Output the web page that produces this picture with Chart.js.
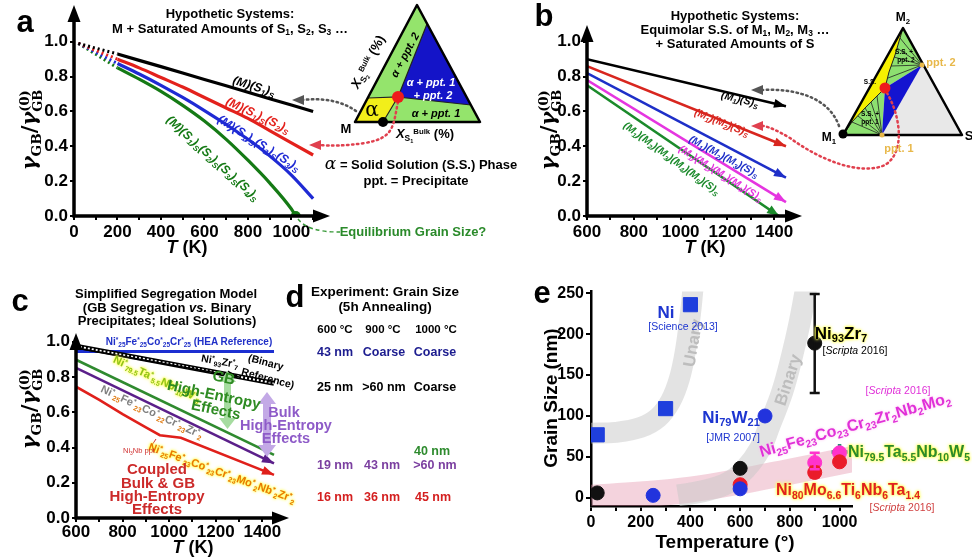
<!DOCTYPE html>
<html>
<head>
<meta charset="utf-8">
<script src="https://cdn.jsdelivr.net/npm/chart.js@4.4.0/dist/chart.umd.min.js"></script>
<style>
body { margin: 0; background: #fff; }
#wrap { position: relative; width: 972px; height: 558px; overflow: hidden; font-family: 'Liberation Sans', Arial, sans-serif; }
canvas, svg { position: absolute; }
.t { position: absolute; white-space: nowrap; font-weight: bold; line-height: 1; transform: translate(-50%, -50%) rotate(var(--r, 0deg)); }
.tl { transform: translate(0, -50%) rotate(var(--r, 0deg)); transform-origin: left center; }
.t sub { font-size: .65em; vertical-align: -.35em; line-height: 0; }
.t sup { font-size: .65em; vertical-align: .5em; line-height: 0; }
.lbl { font-size: 31px; }
.ttl { font-size: 13px; }
.ax { font-size: 18px; }
.gam { font-family: 'DejaVu Serif', 'Liberation Serif', serif; font-size: 21px; }
.stk { display: inline-flex; flex-direction: column; font-size: .62em; line-height: 1; vertical-align: .55em; }
.cv { font-style: italic; font-size: 12px; }
.cvb { font-style: italic; font-size: 10.5px; }
.tri { font-size: 11px; }
.dd { font-size: 12.5px; }
.ref { font-weight: normal; font-size: 10.5px; }
.glow { text-shadow: 0 0 2px #ffff40, 0 0 3px #ffff40, 0 0 4px #ffff80; }
</style>
</head>
<body>
<div id="wrap">
<canvas id="ca" width="340" height="262" style="left:0;top:0"></canvas>
<canvas id="cb" width="340" height="262" style="left:480px;top:0"></canvas>
<canvas id="cc" width="300" height="278" style="left:0;top:280px"></canvas>
<canvas id="ce" width="442" height="278" style="left:530px;top:280px"></canvas>

<svg width="972" height="558" style="left:0;top:0">
  <!-- panel a ternary sketch -->
  <polygon points="355,122 417,5 480,122" fill="#94e46c"/>
  <polygon points="398,97 427,24 471,105" fill="#1414c8"/>
  <polygon points="355,122 368,98 398,97 383,122" fill="#f2ee1a"/>
  <polyline points="368,98 398,97 383,122" fill="none" stroke="#222" stroke-width="1.2"/>
  <polyline points="427,24 398,97 471,105" fill="none" stroke="#222" stroke-width="1.2"/>
  <polygon points="355,122 417,5 480,122" fill="none" stroke="#000" stroke-width="2.5" stroke-linejoin="round"/>
  <path d="M356,111 C340,100 322,98 302,100" fill="none" stroke="#555" stroke-width="2.5" stroke-dasharray="1.5 3.5" stroke-linecap="round"/>
  <polygon points="292,100 304,95 304,105" fill="#555"/>
  <path d="M398,102 C393,125 395,138 365,143 C345,146 330,146 320,145" fill="none" stroke="#e0404e" stroke-width="2.5" stroke-dasharray="1.5 3.5" stroke-linecap="round"/>
  <polygon points="309,145 321,140 321,150" fill="#e0404e"/>
  <circle cx="398" cy="97" r="6" fill="#ee1c1c"/>
  <circle cx="383" cy="122" r="5" fill="#000"/>
  <path d="M298,219 C305,228 318,232 340,232" fill="none" stroke="#3a9a3a" stroke-width="1.5" stroke-dasharray="4 3"/>

  <!-- panel b ternary sketch -->
  <polygon points="843,135 903,28 962,135" fill="#e8e8e8"/>
  <polygon points="843,135 882,135 885,88 922,65 903,28" fill="#8de070"/>
  <polygon points="885,88 922,65 882,135" fill="#1414d0"/>
  <path d="M843,135 L903,28 L900,38 L895,55 L889,72 L885,88 L877,96 L865,108 L852,122 Z" fill="#f5f000"/>
  <polyline points="903,28 900,38 895,55 889,72 885,88 877,96 865,108 852,122 843,135" fill="none" stroke="#222" stroke-width="1"/>
  <g stroke="#222" stroke-width="0.8">
    <line x1="882" y1="135" x2="852" y2="122"/><line x1="882" y1="135" x2="858" y2="116"/>
    <line x1="882" y1="135" x2="865" y2="108"/><line x1="882" y1="135" x2="871" y2="102"/>
    <line x1="882" y1="135" x2="877" y2="96"/>
    <line x1="922" y1="65" x2="888" y2="78"/><line x1="922" y1="65" x2="891" y2="66"/>
    <line x1="922" y1="65" x2="894" y2="57"/><line x1="922" y1="65" x2="897" y2="48"/>
    <line x1="922" y1="65" x2="900" y2="38"/>
  </g>
  <polygon points="843,135 903,28 962,135" fill="none" stroke="#000" stroke-width="2.5" stroke-linejoin="round"/>
  <path d="M839,126 C830,100 800,88 762,90" fill="none" stroke="#555" stroke-width="2.5" stroke-dasharray="1.5 3.5" stroke-linecap="round"/>
  <polygon points="751,90 763,85 763,95" fill="#555"/>
  <path d="M887,93 C900,115 906,152 885,165 C860,176 820,160 790,138 C778,131 770,127 763,126" fill="none" stroke="#e0404e" stroke-width="2.5" stroke-dasharray="1.5 3.5" stroke-linecap="round"/>
  <polygon points="751,126 763,121 763,131" fill="#e0404e"/>
  <circle cx="885" cy="88" r="5.5" fill="#ee1c1c"/>
  <circle cx="843" cy="134" r="4.5" fill="#000"/>
  <circle cx="882" cy="135" r="2.5" fill="#e8b84a"/>
  <circle cx="922" cy="65" r="2.5" fill="#e8b84a"/>

  <!-- panel c double arrows -->
  <g fill="#a6dca0">
    <rect x="224" y="380" width="7" height="40"/>
    <polygon points="227.5,371 219,382 236,382"/>
    <polygon points="227.5,429 219,418 236,418"/>
  </g>
  <g fill="#c3a9e6">
    <rect x="263" y="402" width="8" height="45"/>
    <polygon points="267,392 258,404 276,404"/>
    <polygon points="267,457 258,445 276,445"/>
  </g>
  <line x1="150" y1="448" x2="156" y2="439" stroke="#d03030" stroke-width="1"/>
</svg>

<!-- panel a text -->
<div class="t lbl" style="left:25px;top:21px">a</div>
<div class="t ttl" style="left:230px;top:13px">Hypothetic Systems:</div>
<div class="t ttl" style="left:230px;top:28px">M + Saturated Amounts of S<sub>1</sub>, S<sub>2</sub>, S<sub>3</sub> …</div>
<div class="t gam" style="left:31px;top:130px;--r:-90deg"><i>γ</i><sub>GB</sub>/<i>γ</i><span class="stk"><span>(0)</span><span>GB</span></span></div>
<div class="t ax" style="left:187px;top:247px"><i>T</i> (K)</div>
<div class="t cv" style="left:254px;top:86px;--r:17deg">(M)(S<sub>1</sub>)<sub>S</sub></div>
<div class="t cv" style="left:258px;top:115px;--r:25deg;color:#e3211c">(M)(S<sub>1</sub>)<sub>S</sub>(S<sub>2</sub>)<sub>S</sub></div>
<div class="t cv" style="left:259px;top:143px;--r:32deg;color:#1f2ad4">(M)(S<sub>1</sub>)<sub>S</sub>(S<sub>2</sub>)<sub>S</sub>(S<sub>3</sub>)<sub>S</sub></div>
<div class="t cv" style="left:213px;top:158px;--r:42deg;color:#157a15">(M)(S<sub>1</sub>)<sub>S</sub>(S<sub>2</sub>)<sub>S</sub>(S<sub>3</sub>)<sub>S</sub>(S<sub>4</sub>)<sub>S</sub></div>
<div class="t ttl" style="left:413px;top:231px;color:#2a8a2a">Equilibrium Grain Size?</div>
<div class="t ttl" style="left:421px;top:163px"><span style="font-family:'DejaVu Serif',serif;font-style:italic;font-size:17px;font-weight:normal">α</span> = Solid Solution (S.S.) Phase</div>
<div class="t ttl" style="left:416px;top:180px">ppt. = Precipitate</div>
<div class="t tri" style="left:405px;top:55px;--r:-62deg;font-style:italic">α + ppt. 2</div>
<div class="t tri" style="left:431px;top:82px;color:#fff;font-style:italic">α + ppt. 1</div>
<div class="t tri" style="left:433px;top:95px;color:#fff;font-style:italic">+ ppt. 2</div>
<div class="t tri" style="left:436px;top:113px;font-style:italic">α + ppt. 1</div>
<div class="t" style="left:372px;top:109px;font-family:'DejaVu Serif',serif;font-size:20px;font-weight:normal">α</div>
<div class="t ttl" style="left:346px;top:128px">M</div>
<div class="t" style="left:368px;top:62px;--r:-62deg;font-size:13px"><i>X</i><sub>S<sub>2</sub></sub><sup style="font-size:.6em">Bulk</sup> (%)</div>
<div class="t" style="left:425px;top:134px;font-size:13px"><i>X</i><sub>S<sub>1</sub></sub><sup style="font-size:.6em">Bulk</sup> (%)</div>

<!-- panel b text -->
<div class="t lbl" style="left:544px;top:15px">b</div>
<div class="t ttl" style="left:735px;top:15px">Hypothetic Systems:</div>
<div class="t ttl" style="left:735px;top:29px">Equimolar S.S. of M<sub>1</sub>, M<sub>2</sub>, M<sub>3</sub> …</div>
<div class="t ttl" style="left:735px;top:43px">+ Saturated Amounts of S</div>
<div class="t gam" style="left:550px;top:130px;--r:-90deg"><i>γ</i><sub>GB</sub>/<i>γ</i><span class="stk"><span>(0)</span><span>GB</span></span></div>
<div class="t ax" style="left:705px;top:247px"><i>T</i> (K)</div>
<div class="t cvb" style="left:740px;top:99px;--r:14deg">(M<sub>1</sub>)(S)<sub>S</sub></div>
<div class="t cvb" style="left:722px;top:122px;--r:22deg;color:#d8261f">(M<sub>1</sub>)(M<sub>2</sub>)(S)<sub>S</sub></div>
<div class="t cvb" style="left:724px;top:156px;--r:28deg;color:#1e2fc8">(M<sub>1</sub>)(M<sub>2</sub>)(M<sub>3</sub>)(S)<sub>S</sub></div>
<div class="t cvb" style="left:721px;top:173px;--r:32deg;color:#e535e0">(M<sub>1</sub>)(M<sub>2</sub>)(M<sub>3</sub>)(M<sub>4</sub>)(S)<sub>S</sub></div>
<div class="t cvb" style="left:672px;top:158px;--r:36deg;color:#1b8a2b">(M<sub>1</sub>)(M<sub>2</sub>)(M<sub>3</sub>)(M<sub>4</sub>)(M<sub>5</sub>)(S)<sub>S</sub></div>
<div class="t" style="left:903px;top:17px;font-size:12px">M<sub>2</sub></div>
<div class="t" style="left:829px;top:137px;font-size:12px">M<sub>1</sub></div>
<div class="t" style="left:969px;top:135px;font-size:13px">S</div>
<div class="t" style="left:941px;top:62px;font-size:11px;color:#e8b84a">ppt. 2</div>
<div class="t" style="left:899px;top:148px;font-size:11px;color:#e8b84a">ppt. 1</div>
<div class="t" style="left:904px;top:52px;font-size:6.5px">S.S. +</div>
<div class="t" style="left:906px;top:60px;font-size:6.5px">ppt. 2</div>
<div class="t" style="left:870px;top:82px;font-size:6.5px">S.S.</div>
<div class="t" style="left:870px;top:114px;font-size:6.5px">S.S. +</div>
<div class="t" style="left:870px;top:122px;font-size:6.5px">ppt. 1</div>

<!-- panel c text -->
<div class="t lbl" style="left:20px;top:300px">c</div>
<div class="t ttl" style="left:166px;top:293px">Simplified Segregation Model</div>
<div class="t ttl" style="left:167px;top:307px">(GB Segregation <i>vs.</i> Binary</div>
<div class="t ttl" style="left:167px;top:320px">Precipitates; Ideal Solutions)</div>
<div class="t gam" style="left:31px;top:409px;--r:-90deg"><i>γ</i><sub>GB</sub>/<i>γ</i><span class="stk"><span>(0)</span><span>GB</span></span></div>
<div class="t ax" style="left:193px;top:547px"><i>T</i> (K)</div>
<div class="t" style="left:189px;top:342px;font-size:10px;color:#2030c8">Ni<sup>*</sup><sub>25</sub>Fe<sup>*</sup><sub>25</sub>Co<sup>*</sup><sub>25</sub>Cr<sup>*</sup><sub>25</sub> (HEA Reference)</div>
<div class="t" style="left:220px;top:361px;font-size:10.5px;--r:10deg">Ni<sup>*</sup><sub>93</sub>Zr<sup>*</sup><sub>7</sub></div>
<div class="t" style="left:266px;top:362px;font-size:10.5px;--r:15deg">(Binary</div>
<div class="t" style="left:268px;top:378px;font-size:10.5px;--r:15deg">Reference)</div>
<div class="t glow" style="left:157px;top:379px;font-size:11px;--r:25deg;color:#8fc21a">Ni<sup>*</sup><sub>79.5</sub>Ta<sup>*</sup><sub>5.5</sub>Nb<sup>*</sup><sub>10</sub>W<sup>*</sup><sub>5</sub></div>
<div class="t" style="left:152px;top:412px;font-size:11px;--r:25deg;color:#808080">Ni<sup>*</sup><sub style="color:#e07a10">25</sub>Fe<sup>*</sup><sub style="color:#e07a10">23</sub>Co<sup>*</sup><sub style="color:#e07a10">22</sub>Cr<sup>*</sup><sub style="color:#e07a10">23</sub>Zr<sup>*</sup><sub style="color:#e07a10">2</sub></div>
<div class="t glow" style="left:222px;top:473px;font-size:11px;--r:20deg;color:#e87800">Ni<sup>*</sup><sub>25</sub>Fe<sup>*</sup><sub>23</sub>Co<sup>*</sup><sub>23</sub>Cr<sup>*</sup><sub>23</sub>Mo<sup>*</sup><sub>2</sub>Nb<sup>*</sup><sub>2</sub>Zr<sup>*</sup><sub>2</sub></div>
<div class="t" style="left:140px;top:451px;font-size:7.5px;font-weight:normal;color:#d03030">Ni<sub>3</sub>Nb ppt.</div>
<div class="t" style="left:224px;top:377px;font-size:15px;--r:12deg;color:#2e8b22">GB</div>
<div class="t" style="left:214px;top:394px;font-size:15px;--r:12deg;color:#2e8b22">High-Entropy</div>
<div class="t" style="left:216px;top:409px;font-size:15px;--r:12deg;color:#2e8b22">Effects</div>
<div class="t" style="left:284px;top:412px;font-size:14.5px;color:#8e5bc8">Bulk</div>
<div class="t" style="left:286px;top:425px;font-size:14.5px;color:#8e5bc8">High-Entropy</div>
<div class="t" style="left:286px;top:438px;font-size:14.5px;color:#8e5bc8">Effects</div>
<div class="t" style="left:157px;top:468px;font-size:15px;color:#cc2a2a">Coupled</div>
<div class="t" style="left:158px;top:482px;font-size:15px;color:#cc2a2a">Bulk &amp; GB</div>
<div class="t" style="left:157px;top:495px;font-size:15px;color:#cc2a2a">High-Entropy</div>
<div class="t" style="left:157px;top:508px;font-size:15px;color:#cc2a2a">Effects</div>

<!-- panel d text -->
<div class="t lbl" style="left:295px;top:296px">d</div>
<div class="t" style="left:385px;top:292px;font-size:13.5px">Experiment: Grain Size</div>
<div class="t" style="left:385px;top:307px;font-size:13.5px">(5h Annealing)</div>
<div class="t dd" style="left:335px;top:330px;font-size:11.5px">600 °C</div>
<div class="t dd" style="left:383px;top:330px;font-size:11.5px">900 °C</div>
<div class="t dd" style="left:436px;top:330px;font-size:11.5px">1000 °C</div>
<div class="t dd" style="left:335px;top:352px;color:#1c1c8f">43 nm</div>
<div class="t dd" style="left:384px;top:352px;color:#1c1c8f">Coarse</div>
<div class="t dd" style="left:435px;top:352px;color:#1c1c8f">Coarse</div>
<div class="t dd" style="left:335px;top:387px">25 nm</div>
<div class="t dd" style="left:384px;top:387px">&gt;60 nm</div>
<div class="t dd" style="left:435px;top:387px">Coarse</div>
<div class="t dd" style="left:432px;top:451px;color:#2e8b2e">40 nm</div>
<div class="t dd" style="left:335px;top:465px;color:#7b3fa0">19 nm</div>
<div class="t dd" style="left:382px;top:465px;color:#7b3fa0">43 nm</div>
<div class="t dd" style="left:435px;top:465px;color:#7b3fa0">&gt;60 nm</div>
<div class="t dd" style="left:335px;top:497px;color:#d42020">16 nm</div>
<div class="t dd" style="left:382px;top:497px;color:#d42020">36 nm</div>
<div class="t dd" style="left:433px;top:497px;color:#d42020">45 nm</div>

<!-- panel e text -->
<div class="t lbl" style="left:542px;top:292px">e</div>
<div class="t" style="left:550px;top:398px;font-size:19px;--r:-90deg">Grain Size (nm)</div>
<div class="t" style="left:725px;top:541px;font-size:19px">Temperature (°)</div>
<div class="t" style="left:693px;top:343px;font-size:17px;--r:-80deg;color:#bdbdbd">Unary</div>
<div class="t" style="left:788px;top:380px;font-size:17px;--r:-72deg;color:#bdbdbd">Binary</div>
<div class="t" style="left:666px;top:312px;font-size:17px;color:#1d35d0">Ni</div>
<div class="t ref" style="left:683px;top:326px;color:#1d35d0">[Science 2013]</div>
<div class="t glow" style="left:841px;top:333px;font-size:17px">Ni<sub>93</sub>Zr<sub>7</sub></div>
<div class="t ref" style="left:855px;top:350px">[<i>Scripta</i> 2016]</div>
<div class="t" style="left:731px;top:417px;font-size:17px;color:#1d35d0">Ni<sub>79</sub>W<sub>21</sub></div>
<div class="t ref" style="left:733px;top:437px;color:#1d35d0">[JMR 2007]</div>
<div class="t ref" style="left:898px;top:390px;color:#e030d8">[<i>Scripta</i> 2016]</div>
<div class="t" style="left:855px;top:425px;font-size:16px;--r:-16deg;color:#e030d8;text-shadow:0 0 3px #ffc0f0">Ni<sub>25</sub>Fe<sub>23</sub>Co<sub>23</sub>Cr<sub>23</sub>Zr<sub>2</sub>Nb<sub>2</sub>Mo<sub>2</sub></div>
<div class="t tl glow" style="left:848px;top:452px;font-size:16px;color:#2b8a2b">Ni<sub>79.5</sub>Ta<sub>5.5</sub>Nb<sub>10</sub>W<sub>5</sub></div>
<div class="t glow" style="left:848px;top:490px;font-size:16px;color:#e02020">Ni<sub>80</sub>Mo<sub>6.6</sub>Ti<sub>6</sub>Nb<sub>6</sub>Ta<sub>1.4</sub></div>
<div class="t ref" style="left:902px;top:507px;color:#d04040">[<i>Scripta</i> 2016]</div>
</div>

<script>
// ---- panel a: hypothetic M + saturated S1..S4 ----
const aT = [200, 300, 400, 500, 600, 700, 800, 900, 1000, 1100];
const aS1 = [0.93, 0.893, 0.857, 0.82, 0.783, 0.747, 0.71, 0.673, 0.637, 0.60];
const aS12 = [0.90, 0.85, 0.795, 0.74, 0.68, 0.62, 0.56, 0.49, 0.42, 0.35];
const aS123 = [0.875, 0.815, 0.75, 0.68, 0.605, 0.525, 0.44, 0.345, 0.235, 0.10];
const aT4 = [200, 300, 400, 500, 600, 700, 800, 900, 1000, 1020];
const aS1234 = [0.85, 0.785, 0.715, 0.635, 0.545, 0.44, 0.32, 0.19, 0.04, 0.0];
const aLeadT = [20, 200];
const aLeadStart = 0.99;
const eqT = [1020], eqV = [0.0];

// ---- panel b: equimolar M1..M5 + saturated S ----
const bT = [600, 1450];
const bM1 = [0.90, 0.63];
const bM2 = [0.86, 0.40];
const bM3 = [0.82, 0.22];
const bM4 = [0.78, 0.08];
const bT5 = [600, 1420];
const bM5 = [0.75, 0.0];

// ---- panel c: simplified segregation model ----
const cT = [600, 1450];
const cHEA = [0.945, 0.945];
const cBinRef = [0.975, 0.765];
const cZrT = [600, 1300];
const cZr = [0.965, 0.80];
const cTaNbW = [0.898, 0.358];
const cZr2 = [0.852, 0.31];
const cRedT = [600, 700, 800, 900, 960, 1050, 1450];
const cRed = [0.745, 0.67, 0.59, 0.515, 0.47, 0.455, 0.245];

// ---- panel e: measured grain sizes ----
const niT = [25, 300, 400], niSize = [77, 109, 236];
const nwT = [250, 600, 700], nwSize = [3, 11, 100];
const zrT = [25, 600, 900], zrSize = [6, 36, 189];
const zrLo = [null, null, 128], zrHi = [null, null, 249];
const moT = [600, 900, 1000], moSize = [16, 31, 44];
const moLo = [null, 25, null], moHi = [null, 38, null];
const heaT = [900, 1000], heaSize = [43, 55];
const heaLo = [35, null], heaHi = [55, null];
const taT = [1000], taSize = [56];
const unaryT = [0, 100, 200, 270, 320, 355, 380, 400, 410];
const unaryY = [79, 80, 86, 98, 118, 145, 180, 225, 255];
const binaryT = [350, 450, 550, 620, 680, 720, 770, 810, 840, 865];
const binaryY = [3, 8, 18, 35, 60, 90, 130, 175, 215, 255];
const pinkT = [0, 200, 400, 600, 800, 1000, 1050];
const pinkY = [0, 4, 10, 20, 32, 44, 47];

const pts = (xs, ys) => xs.map((x, i) => ({ x, y: ys[i] }));
const tickFont = { family: "'Liberation Sans', Arial, sans-serif", size: 17, weight: 'bold' };

function tri(ctx, x, y, ang, len, half) {
    ctx.save();
    ctx.translate(x, y);
    ctx.rotate(ang);
    ctx.beginPath();
    ctx.moveTo(0, 0);
    ctx.lineTo(-len, -half);
    ctx.lineTo(-len, half);
    ctx.closePath();
    ctx.fill();
    ctx.restore();
}

// thick axes with arrow heads
const axisArrows = {
    id: 'axisArrows',
    afterDraw(chart, args, opt) {
        if (opt.yTip === undefined) return;
        const { ctx, chartArea: a } = chart;
        const xTip = a.right + opt.xExt;
        ctx.save();
        ctx.strokeStyle = '#000';
        ctx.fillStyle = '#000';
        ctx.lineWidth = 3.5;
        ctx.beginPath();
        ctx.moveTo(a.left - 1.5, a.bottom);
        ctx.lineTo(xTip - 10, a.bottom);
        ctx.moveTo(a.left, a.bottom + 1.5);
        ctx.lineTo(a.left, opt.yTip + 10);
        ctx.stroke();
        tri(ctx, xTip, a.bottom, 0, 17, 6.5);
        tri(ctx, a.left, opt.yTip, -Math.PI / 2, 17, 6.5);
        ctx.restore();
    }
};

// arrow heads at the end of model curves
const lineArrows = {
    id: 'lineArrows',
    afterDatasetsDraw(chart) {
        const ctx = chart.ctx;
        chart.data.datasets.forEach((ds, i) => {
            if (!ds.arrowHead) return;
            const p = chart.getDatasetMeta(i).data;
            const a = p[p.length - 1], b = p[p.length - 2];
            ctx.fillStyle = ds.borderColor;
            tri(ctx, a.x, a.y, Math.atan2(a.y - b.y, a.x - b.x), 12, 4.5);
        });
    }
};

// error bars for panel e
const errorBars = {
    id: 'errorBars',
    afterDatasetsDraw(chart) {
        const { ctx, scales: { x, y } } = chart;
        chart.data.datasets.forEach(ds => {
            if (!ds.errLo) return;
            ds.data.forEach((p, k) => {
                if (ds.errLo[k] == null) return;
                const px = x.getPixelForValue(p.x);
                const y1 = y.getPixelForValue(ds.errLo[k]);
                const y2 = y.getPixelForValue(ds.errHi[k]);
                ctx.save();
                ctx.strokeStyle = ds.errColor;
                ctx.lineWidth = 2.5;
                ctx.beginPath();
                ctx.moveTo(px, y1); ctx.lineTo(px, y2);
                ctx.moveTo(px - 5, y1); ctx.lineTo(px + 5, y1);
                ctx.moveTo(px - 5, y2); ctx.lineTo(px + 5, y2);
                ctx.stroke();
                ctx.restore();
            });
        });
    }
};

function scaleCfg(min, max, step, size, fmt, font, pad) {
    return {
        type: 'linear', min, max,
        afterFit: s => { if (s.isHorizontal()) s.height = size; else s.width = size; },
        border: { display: false },
        grid: { drawOnChartArea: false, drawTicks: true, tickLength: 4, lineWidth: 2, color: '#000' },
        ticks: { stepSize: step, includeBounds: false, autoSkip: false, maxRotation: 0, color: '#000', font: font || tickFont, padding: pad === undefined ? 2 : pad, callback: fmt }
    };
}

const every200 = v => (v % 200 === 0 ? String(v) : '');
const oneDec = v => v.toFixed(1);

function line(xs, ys, color, width, extra) {
    return Object.assign({
        data: pts(xs, ys), borderColor: color, backgroundColor: color,
        borderWidth: width, pointRadius: 0, fill: false, tension: 0
    }, extra || {});
}

function baseOpts(pad, xs, ys, arrows) {
    return {
        responsive: false, animation: false, devicePixelRatio: 1,
        layout: { padding: pad },
        plugins: { legend: { display: false }, tooltip: { enabled: false }, axisArrows: arrows },
        scales: { x: xs, y: ys }
    };
}

// panel a
new Chart(document.getElementById('ca'), {
    type: 'line',
    data: {
        datasets: [
            line(eqT, eqV, '#157a15', 0, { pointRadius: 5 }),
            line(aT, aS1, '#000', 3.2),
            line(aT, aS12, '#e3211c', 3.2, { cubicInterpolationMode: 'monotone' }),
            line(aT, aS123, '#1f2ad4', 3.2, { cubicInterpolationMode: 'monotone' }),
            line(aT4, aS1234, '#157a15', 3.2, { cubicInterpolationMode: 'monotone' }),
            line(aLeadT, [aLeadStart, aS1[0]], '#000', 3, { borderDash: [2, 3] }),
            line(aLeadT, [aLeadStart, aS12[0]], '#e3211c', 3, { borderDash: [2, 3] }),
            line(aLeadT, [aLeadStart, aS123[0]], '#1f2ad4', 3, { borderDash: [2, 3] }),
            line(aLeadT, [aLeadStart, aS1234[0]], '#157a15', 3, { borderDash: [2, 3] })
        ]
    },
    options: baseOpts({ left: 30, right: 16, top: 33, bottom: 6 },
        scaleCfg(0, 1150, 100, 40, every200),
        scaleCfg(0, 1.05, 0.2, 44, oneDec),
        { yTip: 5, xExt: 6 }),
    plugins: [axisArrows, lineArrows]
});

// panel b
new Chart(document.getElementById('cb'), {
    type: 'line',
    data: {
        datasets: [
            line(bT, bM1, '#000', 2.6, { arrowHead: true }),
            line(bT, bM2, '#d8261f', 2.6, { arrowHead: true }),
            line(bT, bM3, '#1e2fc8', 2.6, { arrowHead: true }),
            line(bT, bM4, '#e535e0', 2.6, { arrowHead: true }),
            line(bT5, bM5, '#1b8a2b', 2.6, { arrowHead: true })
        ]
    },
    options: baseOpts({ left: 63, right: 27, top: 33, bottom: 6 },
        scaleCfg(600, 1480, 100, 40, every200),
        scaleCfg(0, 1.05, 0.2, 44, oneDec),
        { yTip: 25, xExt: 9 }),
    plugins: [axisArrows, lineArrows]
});

// panel c
new Chart(document.getElementById('cc'), {
    type: 'line',
    data: {
        datasets: [
            line(cZrT, cZr, '#000', 1.5, { arrowHead: true }),
            line(cT, cBinRef, '#fff', 2, { borderDash: [2, 2] }),
            line(cT, cBinRef, '#000', 5),
            line(cT, cHEA, '#1c2fd1', 3),
            line(cT, cZr2, '#5b1f8a', 2.6, { arrowHead: true }),
            line(cT, cTaNbW, '#2f8a2f', 2.6),
            line(cRedT, cRed, '#e0201b', 2.6, { arrowHead: true })
        ]
    },
    options: baseOpts({ left: 32, right: 19, top: 53, bottom: 6 },
        scaleCfg(600, 1480, 100, 34, every200, tickFont, 0),
        scaleCfg(0, 1.05, 0.2, 44, oneDec),
        { yTip: 53, xExt: 8 }),
    plugins: [axisArrows, lineArrows]
});

// panel e
const eFont = { family: "'Liberation Sans', Arial, sans-serif", size: 16, weight: 'bold' };
const eX = scaleCfg(0, 1050, 100, 30, every200, eFont);
const eY = scaleCfg(-10, 252, 50, 40, v => String(v), eFont);
eX.border = { display: true, color: '#000', width: 2.5 };
eY.border = { display: true, color: '#000', width: 2.5 };
eX.grid.tickLength = 5;
eY.grid.tickLength = 5;

function dots(xs, ys, color, style, r, extra) {
    return Object.assign({
        type: 'scatter', data: pts(xs, ys), pointStyle: style, pointRadius: r,
        backgroundColor: color, borderColor: color, borderWidth: 1, showLine: false
    }, extra || {});
}
function band(xs, ys, color, w) {
    return {
        type: 'line', data: pts(xs, ys), borderColor: color, borderWidth: w,
        pointRadius: 0, tension: 0.4, fill: false, order: 10
    };
}

new Chart(document.getElementById('ce'), {
    type: 'scatter',
    data: {
        datasets: [
            band(unaryT, unaryY, 'rgba(200,200,200,0.5)', 21),
            band(binaryT, binaryY, 'rgba(200,200,200,0.5)', 22),
            band(pinkT, pinkY, 'rgba(225,140,165,0.38)', 26),
            dots(niT, niSize, '#1f3fdd', 'rect', 10),
            dots(nwT, nwSize, '#2233dd', 'circle', 7),
            dots(zrT, zrSize, '#111', 'circle', 7, { errLo: zrLo, errHi: zrHi, errColor: '#111' }),
            dots(moT, moSize, '#ea1c2a', 'circle', 7, { errLo: moLo, errHi: moHi, errColor: '#ea1c2a' }),
            dots(heaT, heaSize, '#ff33cc', 'circle', 7, { errLo: heaLo, errHi: heaHi, errColor: '#ff33cc' }),
            dots(taT, taSize, '#2a8a78', 'cross', 8, { borderWidth: 3.5 })
        ]
    },
    options: baseOpts({ left: 21, right: 120, top: 11, bottom: 22 }, eX, eY, {}),
    plugins: [errorBars]
});
</script>
</body>
</html>
